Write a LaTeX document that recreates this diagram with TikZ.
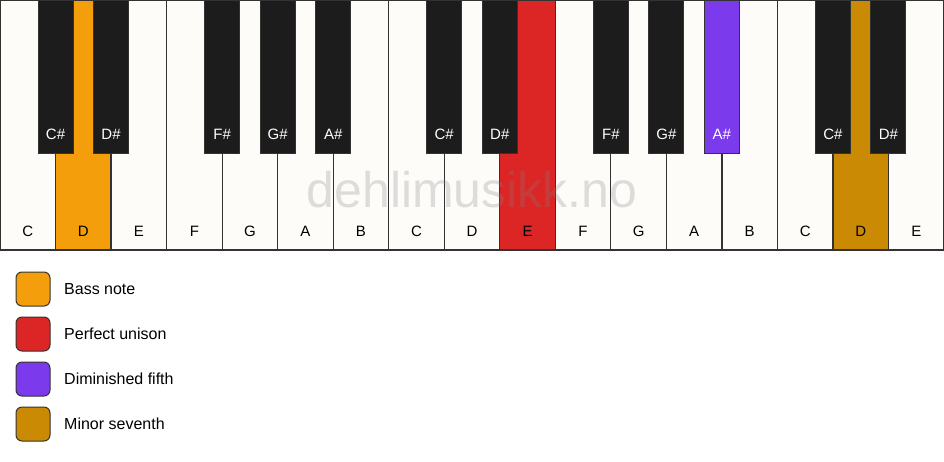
\documentclass[tikz,border=0pt]{standalone}
\usepackage{fontspec}
\setmainfont{Liberation Sans}
\definecolor{keywhite}{HTML}{FDFCF9}
\definecolor{keyblack}{HTML}{1C1C1C}
\definecolor{bass}{HTML}{F59E0B}
\definecolor{unison}{HTML}{DC2626}
\definecolor{dimfifth}{HTML}{7C3AED}
\definecolor{minsev}{HTML}{CA8A04}
\definecolor{edge}{HTML}{333333}
\begin{document}
\begin{tikzpicture}[x=1pt,y=-1pt,
  whitekey/.style={draw=edge,line width=1.2pt,fill=keywhite,minimum width=55.53pt,minimum height=250pt,inner sep=0pt,outer sep=0pt},
  blackkey/.style={draw=edge,line width=1pt,fill=keyblack,minimum width=35pt,minimum height=153pt,inner sep=0pt,outer sep=0pt},
  wlabel/.style={font=\fontsize{15}{15}\selectfont,text=black,anchor=base},
  blabel/.style={font=\fontsize{15}{15}\selectfont,text=white,anchor=base},
  legbox/.style={draw=edge,line width=1pt,rounded corners=6pt,minimum width=34pt,minimum height=34pt,inner sep=0pt},
  legtext/.style={font=\fontsize{16}{16}\selectfont,anchor=west,inner sep=0pt}]
\useasboundingbox (0,0) rectangle (944,461);
\fill[white] (0,0) rectangle (944,461);
% white keys
\foreach \n/\c [count=\i from 0] in {C/keywhite,D/bass,E/keywhite,F/keywhite,G/keywhite,A/keywhite,B/keywhite,C/keywhite,D/keywhite,E/unison,F/keywhite,G/keywhite,A/keywhite,B/keywhite,C/keywhite,D/minsev,E/keywhite}{
  \node[whitekey,fill=\c] (w\i) at ({(\i+0.5)*55.53},125) {};
  \node[wlabel] (wl\i) at ({(\i+0.5)*55.53},236) {\n};
}
% black keys
\foreach \b/\n/\c in {1/C\#/keyblack,2/D\#/keyblack,4/F\#/keyblack,5/G\#/keyblack,6/A\#/keyblack,8/C\#/keyblack,9/D\#/keyblack,11/F\#/keyblack,12/G\#/keyblack,13/A\#/dimfifth,15/C\#/keyblack,16/D\#/keyblack}{
  \node[blackkey,fill=\c] (b\b) at ({\b*55.53},76.5) {};
  \node[blabel] (bl\b) at ({\b*55.53},139) {\n};
}
% watermark
\node[font=\fontsize{50}{50}\selectfont,text=gray,opacity=0.25,anchor=base] (wm) at (472,207) {dehlimusikk.no};
% legend
\foreach \c/\t [count=\k from 0] in {bass/Bass note,unison/Perfect unison,dimfifth/Diminished fifth,minsev/Minor seventh}{
  \node[legbox,fill=\c] (lb\k) at (33,{289+45*\k}) {};
  \node[legtext] (lt\k) at (64,{289+45*\k}) {\t};
}
\end{tikzpicture}
\end{document}
